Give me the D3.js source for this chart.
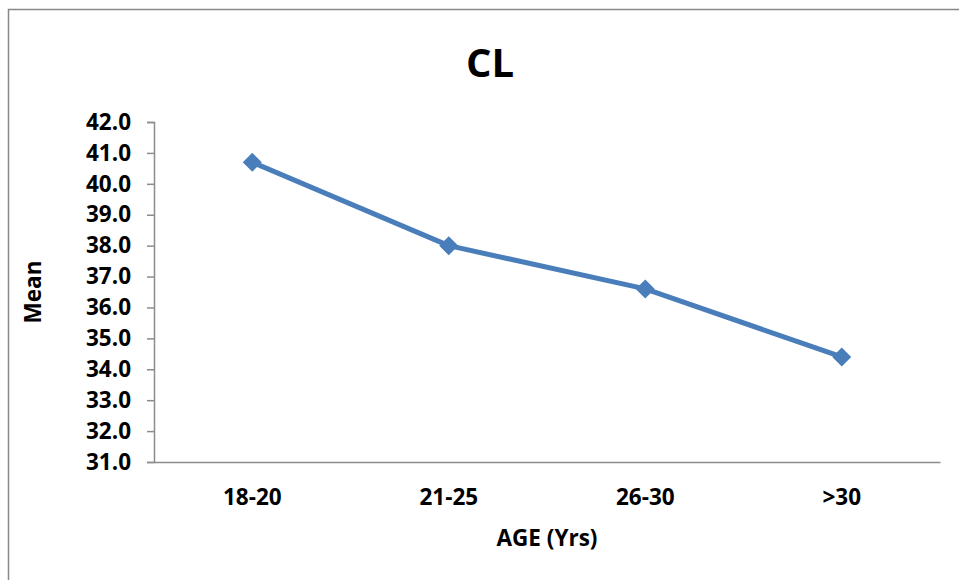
<!DOCTYPE html>
<html>
<head>
<meta charset="utf-8">
<script src="https://cdn.jsdelivr.net/npm/d3@7"></script>
<style>
  html, body { margin: 0; padding: 0; background: #fff; }
  svg { display: block; }
  text { font-family: "Open Sans", "Noto Sans", sans-serif; font-weight: bold; fill: #000; }
</style>
</head>
<body>
<svg id="chart" width="959" height="580"></svg>
<script>
const categories = ["18-20", "21-25", "26-30", ">30"];
const meanValues = [40.7, 38.0, 36.6, 34.4];
const yTicks = [31, 32, 33, 34, 35, 36, 37, 38, 39, 40, 41, 42];
const chartTitle = "CL";
const xTitle = "AGE (Yrs)";
const yTitle = "Mean";

const svg = d3.select("#chart");
const W = 959, H = 580;
const plot = { left: 154, right: 940, top: 122, bottom: 462 };

// outer border
svg.append("rect")
  .attr("x", 8.5).attr("y", 9.5)
  .attr("width", W + 20).attr("height", H + 20)
  .attr("fill", "#fff").attr("stroke", "#888").attr("stroke-width", 1.5);

const x = d3.scaleBand().domain(categories).range([plot.left, plot.right]).padding(0);
const y = d3.scaleLinear().domain([31, 42]).range([plot.bottom, plot.top]);

// y axis
const yAxis = d3.axisLeft(y).tickValues(yTicks).tickFormat(d3.format(".1f")).tickSize(7).tickPadding(16);
const gy = svg.append("g").attr("transform", `translate(${plot.left},0)`).call(yAxis);
gy.select(".domain").attr("stroke", "#8c8c8c").attr("stroke-width", 1.5);
gy.selectAll(".tick line").attr("stroke", "#8c8c8c").attr("stroke-width", 1.5);
gy.selectAll(".tick text").style("font-size", "22.5px");

// x axis
const xAxis = d3.axisBottom(x).tickSize(0).tickPadding(27);
const gx = svg.append("g").attr("transform", `translate(0,${plot.bottom})`).call(xAxis);
gx.select(".domain").attr("stroke", "#8c8c8c").attr("stroke-width", 1.5);
gx.selectAll(".tick text").style("font-size", "22.5px");

// line
const cx = d => x(d) + x.bandwidth() / 2;
const pts = categories.map((c, i) => [cx(c), y(meanValues[i])]);
svg.append("path")
  .attr("d", d3.line()(pts))
  .attr("fill", "none").attr("stroke", "#4a7ebb").attr("stroke-width", 5)
  .attr("stroke-linejoin", "round");

svg.selectAll(".marker").data(pts).join("path")
  .attr("class", "marker")
  .attr("transform", d => `translate(${d[0]},${d[1]})`)
  .attr("d", d3.symbol().type(d3.symbolDiamond2).size(230))
  .attr("fill", "#4a7ebb");

// titles
svg.append("text").attr("x", 490).attr("y", 77).attr("text-anchor", "middle")
  .style("font-size", "40px").text(chartTitle);
svg.append("text").attr("x", (plot.left + plot.right) / 2).attr("y", 546).attr("text-anchor", "middle")
  .style("font-size", "22.5px").text(xTitle);
svg.append("text").attr("transform", `translate(41,${(plot.top + plot.bottom) / 2}) rotate(-90)`)
  .attr("text-anchor", "middle").style("font-size", "22.5px").text(yTitle);
</script>
</body>
</html>
